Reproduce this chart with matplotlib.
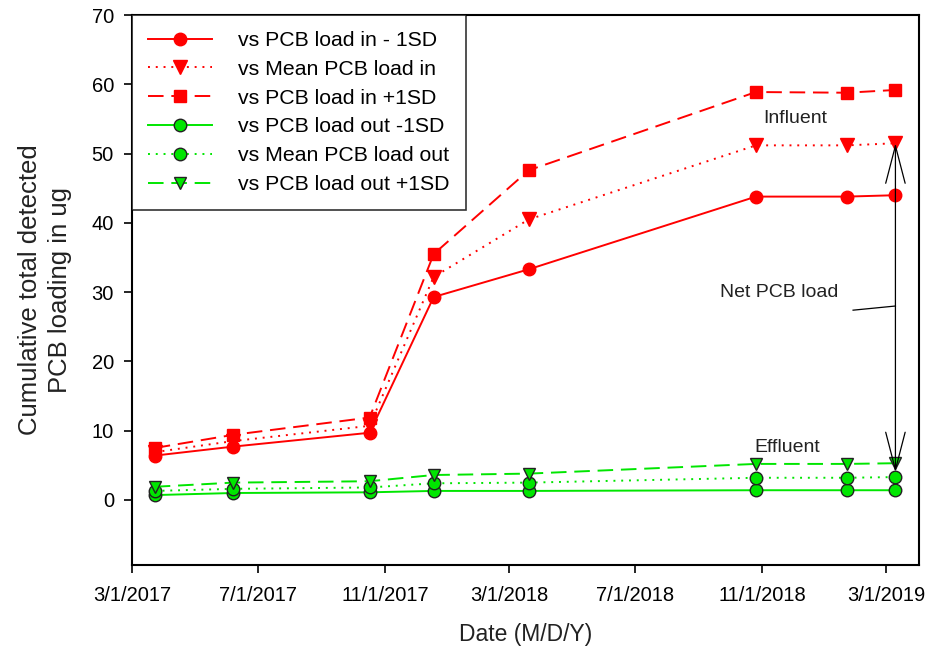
import matplotlib
matplotlib.use("Agg")
import matplotlib.pyplot as plt
import numpy as np
import pandas as pd

plt.rcParams['font.family'] = ['Liberation Sans', 'DejaVu Sans']

dates = pd.to_datetime(['2017-03-23', '2017-06-07', '2017-10-17', '2017-12-18',
                        '2018-03-20', '2018-10-26', '2019-01-22', '2019-03-10'])

in_minus = [6.4, 7.7, 9.7, 29.3, 33.3, 43.8, 43.8, 44.0]
in_mean = [6.9, 8.5, 10.7, 32.2, 40.5, 51.2, 51.2, 51.5]
in_plus = [7.5, 9.4, 11.9, 35.5, 47.6, 58.9, 58.8, 59.2]
out_minus = [0.7, 1.0, 1.1, 1.3, 1.3, 1.4, 1.4, 1.4]
out_mean = [1.3, 1.6, 1.8, 2.4, 2.5, 3.2, 3.2, 3.3]
out_plus = [1.9, 2.5, 2.7, 3.6, 3.8, 5.2, 5.2, 5.3]

tick_dates = pd.to_datetime(['2017-03-01', '2017-07-01', '2017-11-01', '2018-03-01',
                             '2018-07-01', '2018-11-01', '2019-03-01'])

red = '#ff0000'
green = '#00e600'
edge = '#222222'

fig = plt.figure(figsize=(9.39, 6.59), dpi=100)
ax = fig.add_axes([0.1406, 0.1426, 0.8383, 0.8344])

ax.plot(dates, in_minus, color=red, ls='-', lw=1.4, marker='o', ms=9,
        mec=red, label='vs PCB load in - 1SD')
ax.plot(dates, in_mean, color=red, ls=(0, (1, 3)), lw=1.4, marker='v', ms=9.5,
        mec=red, label='vs Mean PCB load in')
ax.plot(dates, in_plus, color=red, ls=(0, (8, 4)), lw=1.4, marker='s', ms=8.5,
        mec=red, label='vs PCB load in +1SD')
ax.plot(dates, out_minus, color=green, ls='-', lw=1.4, marker='o', ms=9,
        mec=edge, mew=1.0, label='vs PCB load out -1SD')
ax.plot(dates, out_mean, color=green, ls=(0, (1, 3)), lw=1.4, marker='o', ms=9,
        mec=edge, mew=1.0, label='vs Mean PCB load out')
ax.plot(dates, out_plus, color=green, ls=(0, (8, 4)), lw=1.4, marker='v', ms=9,
        mec=edge, mew=1.0, label='vs PCB load out +1SD')

# net load arrow and labels
ax.annotate('', xy=(dates[-1], 4.0), xytext=(dates[-1], in_mean[-1]),
            arrowprops=dict(arrowstyle='<->, head_length=2.7, head_width=0.7',
                            color='black', lw=0.9, shrinkA=0, shrinkB=0,
                            mutation_scale=10))
ax.plot(pd.to_datetime(['2019-01-28', '2019-03-10']), [27.4, 28.0],
        color='black', lw=0.9)
ax.text(pd.Timestamp('2018-12-03'), 55.1, 'Influent', fontsize=14,
        ha='center', va='center', color='#222222')
ax.text(pd.Timestamp('2018-11-17'), 29.9, 'Net PCB load', fontsize=14,
        ha='center', va='center', color='#222222')
ax.text(pd.Timestamp('2018-11-25'), 7.6, 'Effluent', fontsize=14,
        ha='center', va='center', color='#222222')

ax.set_xlim(pd.Timestamp('2017-03-01'), pd.Timestamp('2019-04-02'))
ax.set_ylim(-9.4, 70)
ax.set_yticks(np.arange(0, 71, 10))
ax.set_xticks(tick_dates)
ax.set_xticklabels([f'{d.month}/{d.day}/{d.year}' for d in tick_dates])
ax.tick_params(axis='both', direction='out', length=6, width=1.2,
               labelsize=14.5, colors='black', top=False, right=False)
ax.tick_params(axis='x', pad=9)
ax.tick_params(axis='y', pad=7)
for s in ax.spines.values():
    s.set_linewidth(1.5)

ax.set_xlabel('Date (M/D/Y)', fontsize=16.5, labelpad=13, color='#222222')
ax.set_ylabel('Cumulative total detected\nPCB loading in ug', fontsize=18.5,
              labelpad=14, color='#222222', linespacing=1.3)

leg = ax.legend(loc='upper left', bbox_to_anchor=(0.0, 1.0), fontsize=15.3,
                frameon=True, fancybox=False, edgecolor='black',
                handlelength=3.0, handletextpad=1.25, labelspacing=0.46,
                borderpad=0.75, borderaxespad=0.0)
leg.get_frame().set_linewidth(1.2)

fig.savefig('out.png', dpi=100)
